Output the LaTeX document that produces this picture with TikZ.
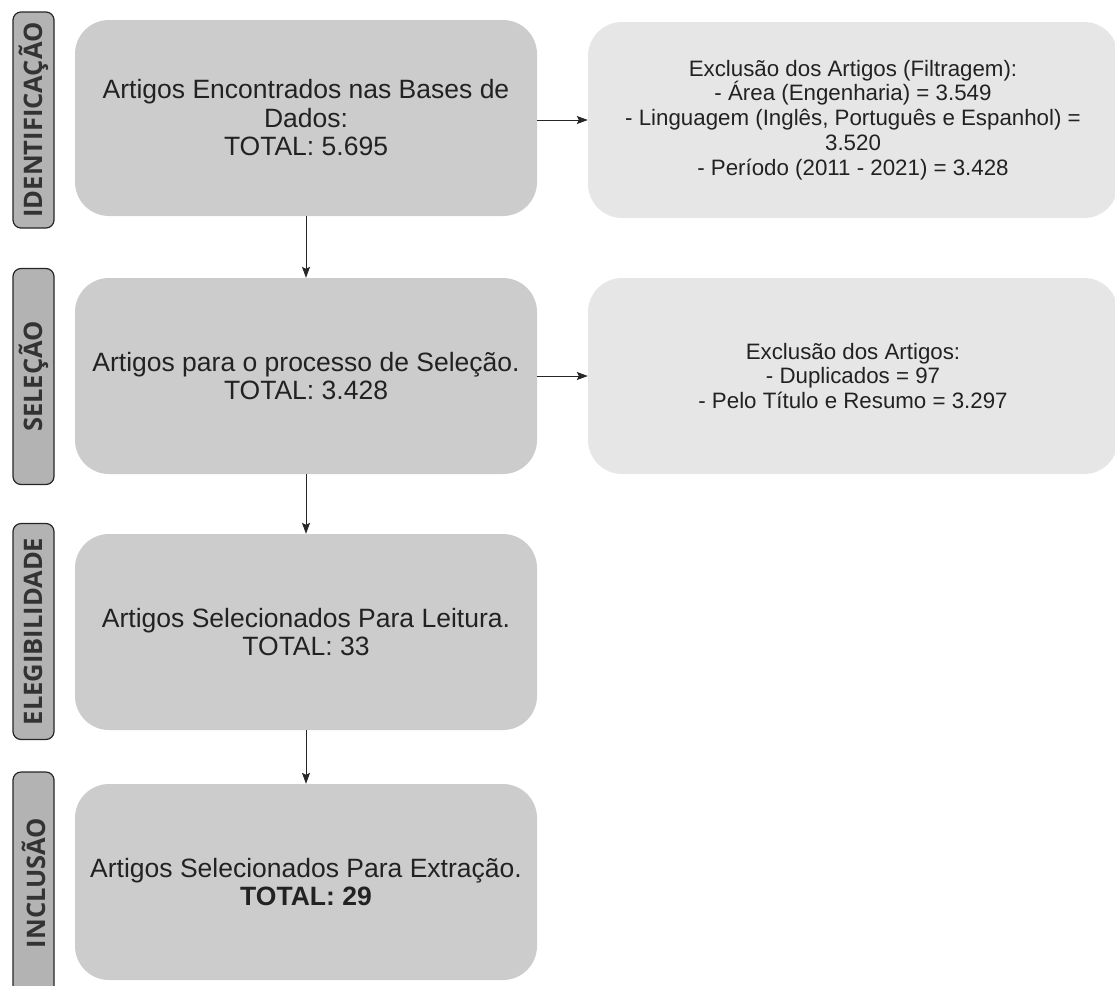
\documentclass[tikz,border=0pt]{standalone}
\usepackage{fontspec}
\setmainfont{Liberation Sans}
\newfontfamily\osans{Open Sans}
\usetikzlibrary{arrows.meta}
\definecolor{mainfill}{HTML}{CCCCCC}
\definecolor{sidefill}{HTML}{E6E6E6}
\definecolor{labfill}{HTML}{B3B3B3}
\definecolor{txt}{HTML}{222222}
\begin{document}
\begin{tikzpicture}[x=1pt,y=-1pt,
  mainbox/.style={rectangle,rounded corners=34pt,fill=mainfill,minimum width=462pt,minimum height=196pt,align=center,text=txt,font=\fontsize{26.5}{28.5}\selectfont,inner sep=0pt},
  sidebox/.style={rectangle,rounded corners=34pt,fill=sidefill,minimum width=530pt,minimum height=196pt,align=center,text=txt,font=\fontsize{22.3}{24.8}\selectfont,inner sep=0pt},
  labbox/.style={rectangle,rounded corners=8pt,draw=black!85,line width=1.2pt,fill=labfill,minimum width=216pt,minimum height=41pt,rotate=90,text=black!80,font=\osans\bfseries\fontsize{25.5}{30}\selectfont,inner sep=0pt},
  conn/.style={draw=black!85,line width=0.9pt,-{Stealth[length=11pt,width=8pt,inset=2pt]}}]
\useasboundingbox (0,0) rectangle (1115,985);
\clip (0,0) rectangle (1115,985);
\node[labbox] (l1) at (33.5,120) {IDENTIFICAÇÃO};
\node[labbox] (l2) at (33.5,376.5) {SELEÇÃO};
\node[labbox] (l3) at (33.5,631.5) {ELEGIBILIDADE};
\node[labbox,minimum width=222pt] (l4) at (33.5,883) {INCLUSÃO};
\node[mainbox] (m1) at (306,118) {Artigos Encontrados nas Bases de\\Dados:\\TOTAL: 5.695};
\node[mainbox] (m2) at (306,376) {Artigos para o processo de Seleção.\\TOTAL: 3.428};
\node[mainbox] (m3) at (306,632) {Artigos Selecionados Para Leitura.\\TOTAL: 33};
\node[mainbox] (m4) at (306,882) {Artigos Selecionados Para Extração.\\\textbf{TOTAL: 29}};
\node[sidebox] (s1) at (853,120) {Exclusão dos Artigos (Filtragem):\\- Área (Engenharia) = 3.549\\- Linguagem (Inglês, Português e Espanhol) =\\3.520\\- Período (2011 - 2021) = 3.428};
\node[sidebox] (s2) at (853,376) {Exclusão dos Artigos:\\- Duplicados = 97\\- Pelo Título e Resumo = 3.297};
\draw[conn] (m1) -- (m2);
\draw[conn] (m2) -- (m3);
\draw[conn] (m3) -- (m4);
\draw[conn] (m1.east |- s1.west) -- (s1.west);
\draw[conn] (m2.east |- s2.west) -- (s2.west);
\end{tikzpicture}
\end{document}
